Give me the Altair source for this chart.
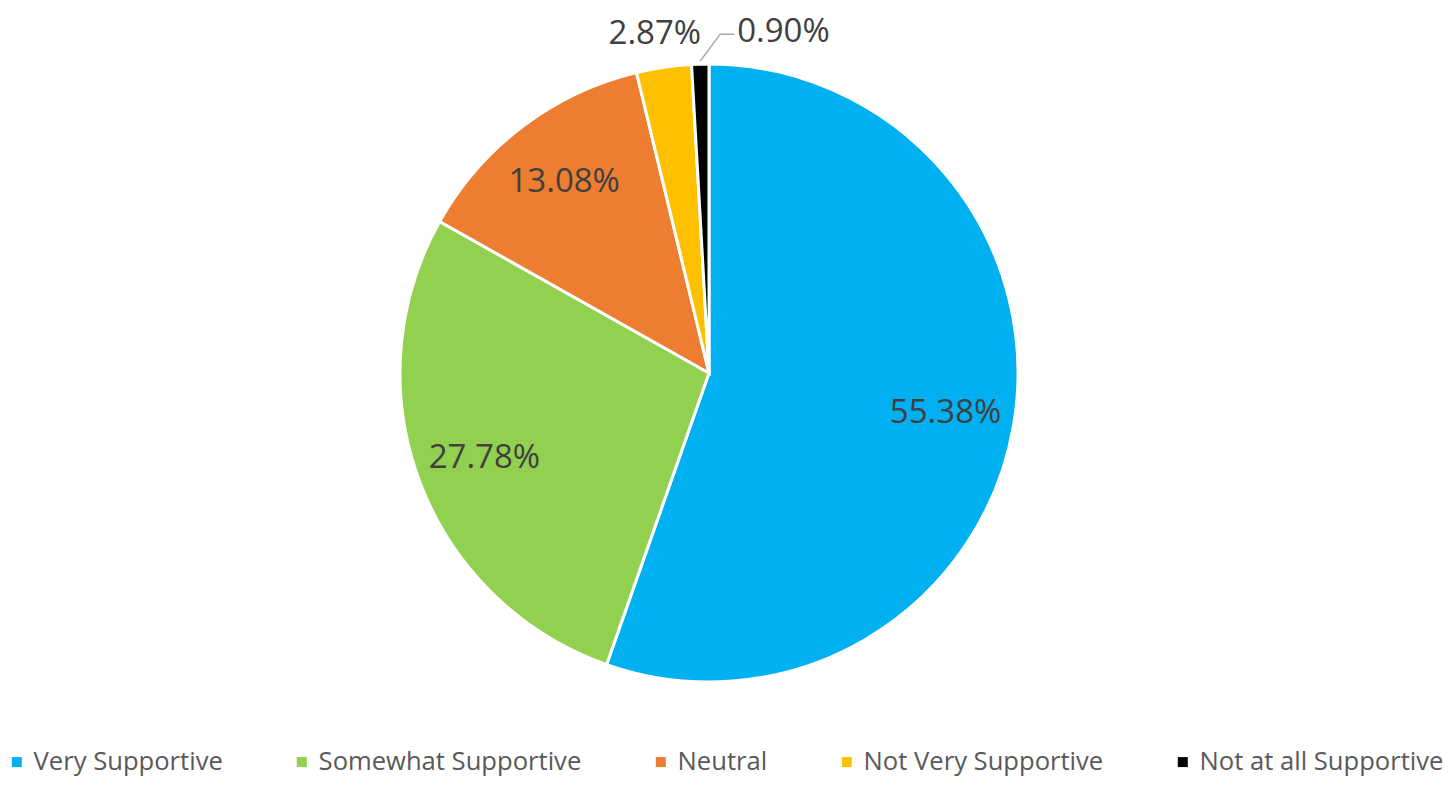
import math
import altair as alt
import pandas as pd

categories = ["Very Supportive", "Somewhat Supportive", "Neutral",
              "Not Very Supportive", "Not at all Supportive"]
values = [55.38, 27.78, 13.08, 2.87, 0.90]
labels = ["55.38%", "27.78%", "13.08%", "2.87%", "0.90%"]
colors = ["#00B0F0", "#92D050", "#ED7D31", "#FFC000", "#000000"]

total = sum(values)
mids = []
acc = 0.0
for v in values:
    mids.append(acc + v / 2)
    acc += v

df = pd.DataFrame({"category": categories, "value": values, "label": labels,
                   "idx": list(range(len(values))), "mid": mids})

W, H = 1436, 769
CX, CY, R = 701, 365, 309
FONT = "Open Sans"
theta_scale = alt.Scale(domain=[0, total], range=[0, 2 * math.pi])

pie = alt.Chart(df).mark_arc(outerRadius=R, stroke="white", strokeWidth=3).encode(
    x=alt.value(CX), y=alt.value(CY),
    theta=alt.Theta("value:Q", stack=True),
    order=alt.Order("idx:Q"),
    color=alt.Color("category:N",
                    scale=alt.Scale(domain=categories, range=colors),
                    legend=alt.Legend(title=None, orient="none", direction="horizontal",
                                      legendX=-4, legendY=741,
                                      symbolType="square", symbolSize=100,
                                      symbolStrokeWidth=0, symbolOpacity=1,
                                      labelFont=FONT, labelFontSize=25.6,
                                      labelColor="#595959", labelOffset=4,
                                      labelLimit=0,
                                      columnPadding=66, padding=0)),
)

inner = alt.Chart(df).transform_filter("datum.value > 5").mark_text(
    radius=240, font=FONT, fontSize=33, color="#404040", baseline="middle"
).encode(
    x=alt.value(CX), y=alt.value(CY),
    theta=alt.Theta("mid:Q", scale=theta_scale),
    text="label:N",
)

outer = alt.Chart(df).transform_filter("datum.value > 2 && datum.value < 5").mark_text(
    radius=343, font=FONT, fontSize=33, color="#404040", baseline="middle", dx=-4
).encode(
    x=alt.value(CX), y=alt.value(CY),
    theta=alt.Theta("mid:Q", scale=theta_scale),
    text="label:N",
)

# leader line and label for the smallest slice
a = mids[-1] / total * 2 * math.pi
sx = CX + (R + 3) * math.sin(a)
sy = CY - (R + 3) * math.cos(a)
ex, ey = sx + 20, sy - 27
fx, fy = ex + 14, ey
leader_df = pd.DataFrame({"px": [sx, ex, fx], "py": [sy, ey, ey], "o": [0, 1, 2]})
leader = alt.Chart(leader_df).mark_line(color="#A6A6A6", strokeWidth=1.5).encode(
    x=alt.X("px:Q", scale=None), y=alt.Y("py:Q", scale=None), order="o:Q"
)
small_df = pd.DataFrame({"label": [labels[-1]], "px": [fx + 3], "py": [ey - 2]})
small = alt.Chart(small_df).mark_text(
    font=FONT, fontSize=33, color="#404040", align="left", baseline="middle"
).encode(x=alt.X("px:Q", scale=None), y=alt.Y("py:Q", scale=None), text="label:N")

chart = alt.layer(pie, inner, outer, leader, small).resolve_scale(
    theta="independent"
).properties(
    width=W, height=H, autosize=alt.AutoSizeParams(type="none"), padding=0
).configure_view(stroke="transparent", strokeWidth=0)

chart.save("out.html", embed_options={"renderer": "svg", "actions": False})
